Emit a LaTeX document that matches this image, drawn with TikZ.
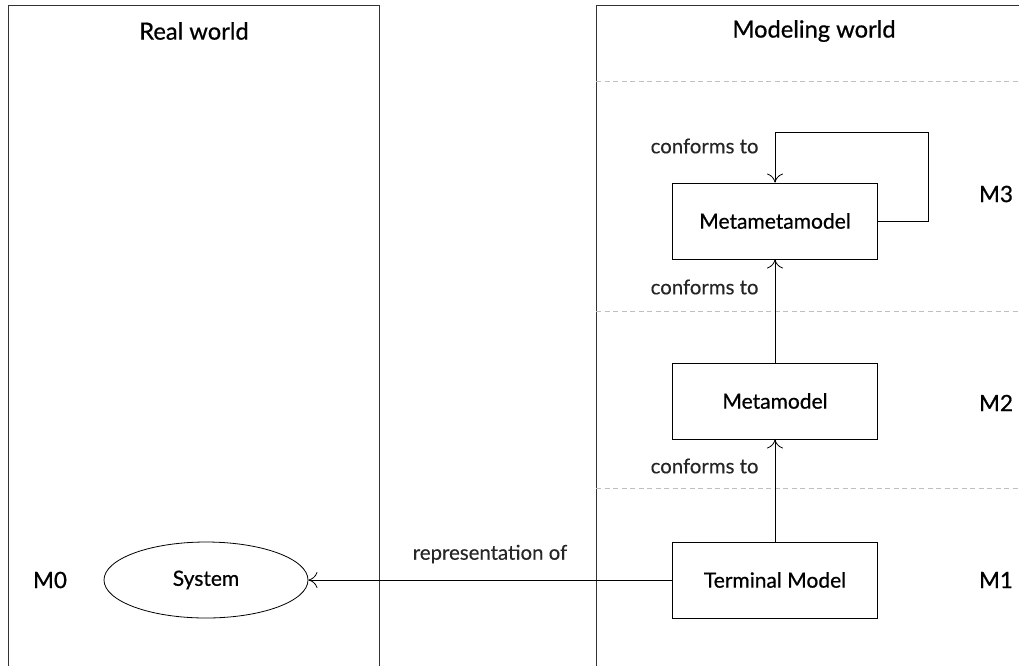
\documentclass[tikz,border=0pt]{standalone}
\usepackage{fontspec}
\setmainfont{Lato}
\newfontfamily\headfont{Lato}[FakeBold=0.7]
\newfontfamily\notefont{Lato}[FakeBold=0.25]
\usetikzlibrary{arrows.meta,shapes.geometric}
\begin{document}
\begin{tikzpicture}[x=1pt,y=-1pt,
  panel/.style={line width=1pt,draw=black!80},
  level/.style={draw=black!25,line width=0.7pt,dash pattern=on 5pt off 3.5pt},
  modelbox/.style={draw,line width=0.8pt,minimum width=205pt,minimum height=76pt,font=\headfont\fontsize{21}{25}\selectfont},
  sysnode/.style={draw,ellipse,line width=0.8pt,minimum width=204pt,minimum height=76pt,inner sep=0pt,font=\headfont\fontsize{21}{25}\selectfont},
  title/.style={font=\headfont\fontsize{23.7}{28}\selectfont},
  lvl/.style={font=\headfont\fontsize{22.5}{27}\selectfont},
  lbl/.style={font=\notefont\fontsize{20.4}{24}\selectfont,text=black!85},
  rel/.style={line width=0.8pt,-{To[length=9pt,width=16pt]}}]
\useasboundingbox (0,0) rectangle (1019,665);
\begin{scope}
\clip (0,0) rectangle (1019,665);
% the two worlds
\draw[panel] (8,680) -- (8,5) -- (379,5) -- (379,680);
\draw[panel] (596,680) -- (596,5) -- (1030,5);
% level separators
\draw[level] (596,81) -- (1019,81);
\draw[level] (596,311) -- (1019,311);
\draw[level] (596,488) -- (1019,488);
\end{scope}

\node[title] (rw) at (194,31) {Real world};
\node[title] (mw) at (814,31) {Modeling world};

\node[modelbox] (mmm) at (775,221) {Metametamodel};
\node[modelbox] (mm) at (775,401) {Metamodel};
\node[modelbox] (tm) at (775,580) {Terminal Model};
\node[sysnode] (sys) at (206,580) {System};

\node[lvl] (m0) at (50,580) {M0};
\node[lvl] (m1) at (996,580) {M1};
\node[lvl] (m2) at (996,403) {M2};
\node[lvl] (m3) at (996,194) {M3};

\coordinate (loopa) at (928,132);
\draw[rel] (mmm.east) -| (loopa) -| (mmm.north);
\draw[rel] (mm.north) -- (mmm.south);
\draw[rel] (tm.north) -- (mm.south);
\draw[rel] (tm.west) -- (sys.east);

\node[lbl,anchor=east] (c1) at (762,146) {conforms to};
\node[lbl,anchor=east] (c2) at (762,287) {conforms to};
\node[lbl,anchor=east] (c3) at (762,466) {conforms to};
\node[lbl] (rep) at (490,554) {representation of};
\end{tikzpicture}
\end{document}
